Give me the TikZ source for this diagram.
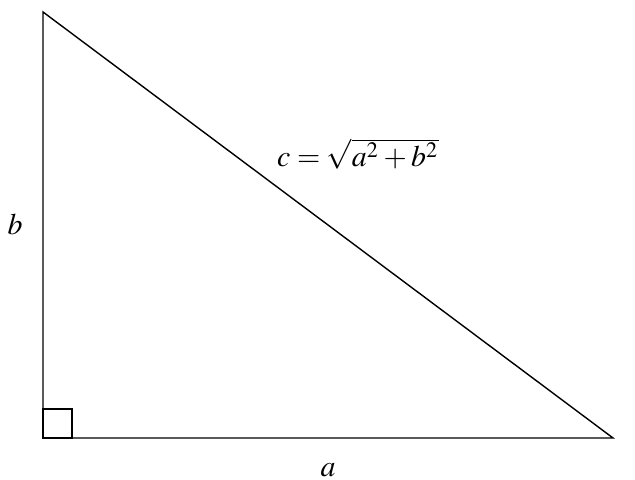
\documentclass[tikz,border=0pt]{standalone}
\usepackage{mathptmx}
\tikzset{>=latex, every node/.style={font=\fontsize{8.5}{10}\selectfont}}
\newcommand{\sqside}{29}

\begin{document}
\begin{tikzpicture}[x=0.01cm,y=-0.01cm]
  \useasboundingbox (0,0) rectangle (635,480);
  \coordinate (C) at (43,438); % right angle
  \coordinate (A) at (613,438);
  \coordinate (B) at (43,12);
  \draw (B) -- (C) -- (A) -- cycle;
  \draw (C) rectangle ++(\sqside,-\sqside);
  \node (a) at (328,470) {$a$};
  \node (b) at (15,224) {$b$};
  \node (c) at (358,154) {$c=\sqrt{a^2+b^2}$};
\end{tikzpicture}
\end{document}
